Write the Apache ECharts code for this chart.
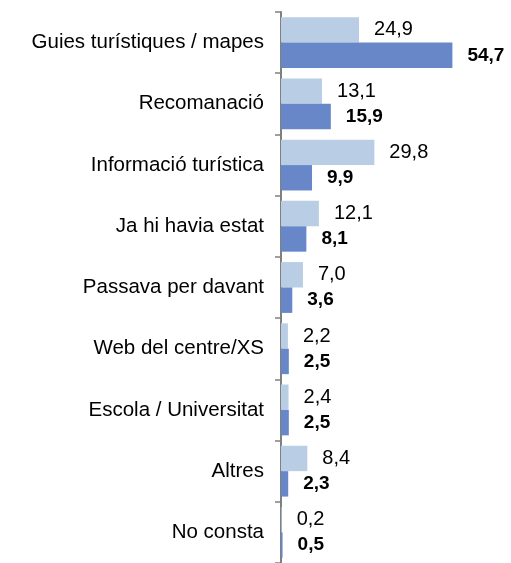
<!DOCTYPE html>
<html>
<head>
<meta charset="utf-8">
<script src="https://cdn.jsdelivr.net/npm/echarts@6/dist/echarts.min.js"></script>
<style>
html,body{margin:0;padding:0;background:#fff;}
#chart{width:511px;height:563px;}
</style>
</head>
<body>
<div id="chart"></div>
<script>
const categories = ["Guies turístiques / mapes","Recomanació","Informació turística","Ja hi havia estat","Passava per davant","Web del centre/XS","Escola / Universitat","Altres","No consta"];
const seriesLight = [24.9, 13.1, 29.8, 12.1, 7.0, 2.2, 2.4, 8.4, 0.2];
const seriesDark = [54.7, 15.9, 9.9, 8.1, 3.6, 2.5, 2.5, 2.3, 0.5];

const fmt = p => p.value.toFixed(1).replace('.', ',');
const FONT = '"Liberation Sans", Arial, sans-serif';

const chart = echarts.init(document.getElementById('chart'), null, {renderer: 'canvas'});
chart.setOption({
  animation: false,
  backgroundColor: '#ffffff',
  grid: {left: 281, top: 12, width: 188, height: 553, containLabel: false},
  xAxis: {
    type: 'value', min: 0, max: 60, show: false
  },
  yAxis: {
    type: 'category', data: categories, inverse: true,
    axisLine: {show: true, lineStyle: {color: '#808080', width: 2}},
    axisTick: {show: true, length: 6, lineStyle: {color: '#808080', width: 1.5}},
    axisLabel: {margin: 17, color: '#000', fontSize: 20.5, fontFamily: FONT, padding: [4, 0, 0, 0]},
    splitLine: {show: false}
  },
  series: [
    {
      type: 'bar', data: seriesLight, barGap: '0%', barCategoryGap: '17%',
      itemStyle: {color: '#B9CDE5'},
      label: {show: true, position: 'right', distance: 15, formatter: fmt,
              color: '#000', fontSize: 20, fontFamily: FONT}
    },
    {
      type: 'bar', data: seriesDark, barGap: '0%', barCategoryGap: '17%',
      itemStyle: {color: '#6787C9'},
      label: {show: true, position: 'right', distance: 15, formatter: fmt,
              color: '#000', fontSize: 19, fontWeight: 'bold', fontFamily: FONT}
    }
  ]
});
</script>
</body>
</html>
